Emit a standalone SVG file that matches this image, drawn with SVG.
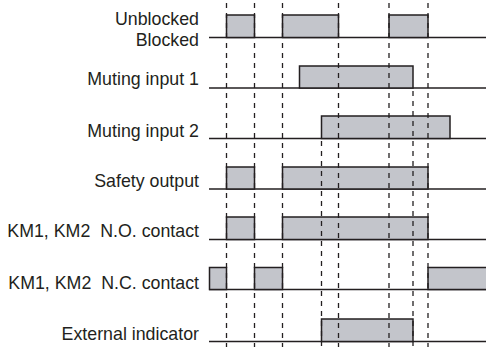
<svg xmlns="http://www.w3.org/2000/svg" width="486" height="347" viewBox="0 0 486 347">
<style>
.lbl{font-family:"Liberation Sans",Arial,sans-serif;font-size:17.8px;fill:#231f20;text-anchor:end}
.base{stroke:#231f20;stroke-width:1.3;fill:none}
.pulse{fill:#c3c5cb;stroke:#231f20;stroke-width:1.5}
.dash{stroke:#231f20;stroke-width:1.3;stroke-dasharray:5 5;fill:none}
</style>
<rect width="486" height="347" fill="#fff"/>
<g id="row-blocked">
<line class="base" x1="209" y1="37.5" x2="486" y2="37.5"/>
<rect class="pulse" x="226.5" y="15" width="28" height="22.5"/>
<rect class="pulse" x="282.5" y="15" width="56" height="22.5"/>
<rect class="pulse" x="389" y="15" width="39" height="22.5"/>
<text class="lbl" x="199" y="24.5">Unblocked</text>
<text class="lbl" x="199" y="46">Blocked</text>
</g>
<g id="row-muting1">
<line class="base" x1="209" y1="88" x2="486" y2="88"/>
<rect class="pulse" x="299.5" y="66" width="113.5" height="22"/>
<text class="lbl" x="199" y="85">Muting input 1</text>
</g>
<g id="row-muting2">
<line class="base" x1="209" y1="138.5" x2="486" y2="138.5"/>
<rect class="pulse" x="321.5" y="116" width="128.5" height="22.5"/>
<text class="lbl" x="199" y="136.5">Muting input 2</text>
</g>
<g id="row-safety">
<line class="base" x1="209" y1="189" x2="486" y2="189"/>
<rect class="pulse" x="226.5" y="167" width="28" height="22"/>
<rect class="pulse" x="282.5" y="167" width="145.5" height="22"/>
<text class="lbl" x="199" y="186.5">Safety output</text>
</g>
<g id="row-no">
<line class="base" x1="209" y1="239.5" x2="486" y2="239.5"/>
<rect class="pulse" x="226.5" y="217" width="28" height="22.5"/>
<rect class="pulse" x="282.5" y="217" width="145.5" height="22.5"/>
<text class="lbl" x="199" y="237" xml:space="preserve">KM1, KM2  N.O. contact</text>
</g>
<g id="row-nc">
<line class="base" x1="209" y1="289.5" x2="486" y2="289.5"/>
<rect class="pulse" x="209.5" y="267.5" width="17" height="22"/>
<rect class="pulse" x="254.5" y="267.5" width="28" height="22"/>
<rect class="pulse" x="428" y="267.5" width="62" height="22"/>
<text class="lbl" x="199" y="288.5" xml:space="preserve">KM1, KM2  N.C. contact</text>
</g>
<g id="row-ext">
<line class="base" x1="209" y1="341.5" x2="486" y2="341.5"/>
<rect class="pulse" x="321.5" y="319" width="91.5" height="22.5"/>
<text class="lbl" x="199" y="340">External indicator</text>
</g>
<g id="connectors">
<line class="dash" x1="226.5" y1="3" x2="226.5" y2="347"/>
<line class="dash" x1="254.5" y1="3" x2="254.5" y2="347"/>
<line class="dash" x1="282.5" y1="3" x2="282.5" y2="347"/>
<line class="dash" x1="338.5" y1="3" x2="338.5" y2="347"/>
<line class="dash" x1="389" y1="3" x2="389" y2="347"/>
<line class="dash" x1="428" y1="3" x2="428" y2="347"/>
<line class="dash" x1="321.5" y1="141" x2="321.5" y2="347"/>
<line class="dash" x1="413" y1="91" x2="413" y2="347"/>
</g>
</svg>
